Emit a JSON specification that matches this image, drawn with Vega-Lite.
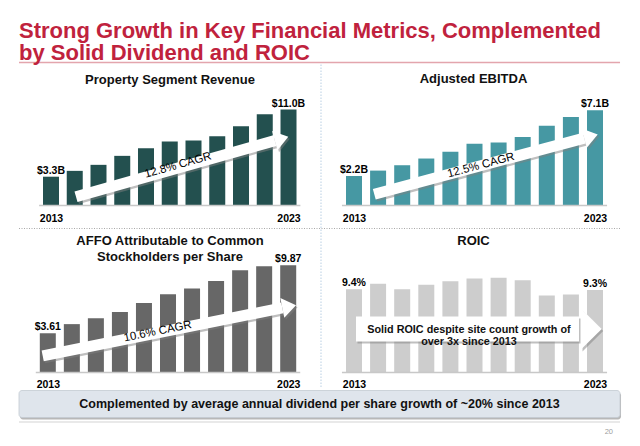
{
  "$schema": "https://vega.github.io/schema/vega-lite/v6.json",
  "padding": {"left": 18, "top": 19.5, "right": 4, "bottom": 2},
  "background": "white",
  "title": {
    "text": ["Strong Growth in Key Financial Metrics, Complemented", "by Solid Dividend and ROIC"],
    "fontSize": 22, "color": "#c0223d", "anchor": "start", "lineHeight": 22.6,
    "baseline": "alphabetic", "offset": -20.5, "frame": "group"
  },
  "concat": [
    {
      "width": 302, "height": 117,
      "title": {"text": "Property Segment Revenue", "offset": -35, "baseline": "alphabetic"},
      "layer": [
        {
          "data": {"values": [
            {"year": 2013, "value": 3.3, "label": "$3.3B"},
            {"year": 2014, "value": 3.97},
            {"year": 2015, "value": 4.66},
            {"year": 2016, "value": 5.69},
            {"year": 2017, "value": 6.57},
            {"year": 2018, "value": 7.33},
            {"year": 2019, "value": 7.45},
            {"year": 2020, "value": 7.94},
            {"year": 2021, "value": 9.09},
            {"year": 2022, "value": 10.46},
            {"year": 2023, "value": 11.0, "label": "$11.0B"}
          ]},
          "layer": [
            {
              "mark": {"type": "bar", "width": 16, "color": "#23504f"},
              "encoding": {
                "x": {"field": "year", "type": "quantitative", "scale": {"domain": [2011.653, 2024.368], "nice": false, "zero": false, "padding": 0},
                      "axis": {"values": [2013, 2023], "format": "d", "title": null, "labelPadding": 7.5}},
                "y": {"field": "value", "type": "quantitative", "scale": {"domain": [0, 13.41], "nice": false, "padding": 0}, "axis": null}
              }
            },
            {
              "transform": [{"filter": "isValid(datum.label)"}],
              "mark": {"type": "text", "fontSize": 10.5, "fontWeight": "bold", "baseline": "alphabetic", "dy": -3, "color": "#000"},
              "encoding": {
                "x": {"field": "year", "type": "quantitative", "axis": {"values": [2013, 2023], "format": "d", "title": null, "labelPadding": 7.5}},
                "y": {"field": "value", "type": "quantitative", "axis": null},
                "text": {"field": "label"}
              }
            }
          ]
        },
        {
          "data": {"values": [{}]},
          "mark": {"type": "rule", "color": "#c8c8c8", "strokeWidth": 1.5},
          "encoding": {"x": {"datum": 2012.5, "type": "quantitative", "axis": {"values": [2013, 2023], "format": "d", "title": null, "labelPadding": 7.5}}, "x2": {"datum": 2023.5}, "y": {"datum": 0, "type": "quantitative", "axis": null}}
        },
        {
          "data": {"values": [{}]},
          "mark": {"type": "rule", "color": "#e3a5ad", "strokeWidth": 1.5},
          "encoding": {"x": {"datum": 2011.653, "type": "quantitative", "axis": {"values": [2013, 2023], "format": "d", "title": null, "labelPadding": 7.5}}, "x2": {"datum": 2036.958}, "y": {"datum": 16.39, "type": "quantitative", "axis": null}}
        },
        {
          "data": {"values": [{}]},
          "mark": {"type": "rule", "color": "#b9cfe3", "strokeWidth": 1, "strokeDash": [1.5, 1.5]},
          "encoding": {"x": {"datum": 2024.368, "type": "quantitative", "axis": {"values": [2013, 2023], "format": "d", "title": null, "labelPadding": 7.5}}, "y": {"datum": 16.16, "type": "quantitative", "axis": null}, "y2": {"datum": -20.97}}
        },
        {
          "data": {"values": [{}]},
          "mark": {"type": "rule", "color": "#a8a8a8", "strokeWidth": 1, "strokeDash": [1, 1.5]},
          "encoding": {"x": {"datum": 2011.653, "type": "quantitative", "axis": {"values": [2013, 2023], "format": "d", "title": null, "labelPadding": 7.5}}, "x2": {"datum": 2036.958}, "y": {"datum": -2.636, "type": "quantitative", "axis": null}}
        },
        {
          "data": {"values": [{}]},
          "mark": {"type": "rule", "color": "#7f7f7f", "strokeWidth": 11, "opacity": 0.5, "xOffset": 1.5, "x2Offset": 1.5, "yOffset": 2, "y2Offset": 2},
          "encoding": {"x": {"datum": 2014.053, "type": "quantitative", "axis": {"values": [2013, 2023], "format": "d", "title": null, "labelPadding": 7.5}}, "y": {"datum": 0.997, "type": "quantitative", "axis": null}, "x2": {"datum": 2022.423}, "y2": {"datum": 7.438}}
        },
        {
          "data": {"values": [{}]},
          "mark": {"type": "point", "shape": "M-1,-1.43L1,0L-1,1.43Z", "size": 196, "angle": 344.2, "filled": true, "fill": "#7f7f7f", "opacity": 0.5, "strokeWidth": 0, "xOffset": 1.5, "yOffset": 2},
          "encoding": {"x": {"datum": 2022.707, "type": "quantitative", "axis": {"values": [2013, 2023], "format": "d", "title": null, "labelPadding": 7.5}}, "y": {"datum": 7.656, "type": "quantitative", "axis": null}}
        },
        {
          "data": {"values": [{}]},
          "mark": {"type": "rule", "color": "#ffffff", "strokeWidth": 11},
          "encoding": {"x": {"datum": 2014.053, "type": "quantitative", "axis": {"values": [2013, 2023], "format": "d", "title": null, "labelPadding": 7.5}}, "y": {"datum": 0.997, "type": "quantitative", "axis": null}, "x2": {"datum": 2022.423}, "y2": {"datum": 7.438}}
        },
        {
          "data": {"values": [{}]},
          "mark": {"type": "point", "shape": "M-1,-1.43L1,0L-1,1.43Z", "size": 196, "angle": 344.2, "filled": true, "fill": "#ffffff", "opacity": 1, "strokeWidth": 0},
          "encoding": {"x": {"datum": 2022.707, "type": "quantitative", "axis": {"values": [2013, 2023], "format": "d", "title": null, "labelPadding": 7.5}}, "y": {"datum": 7.656, "type": "quantitative", "axis": null}}
        },
        {
          "data": {"values": [{"note": "12.8% CAGR"}]},
          "mark": {"type": "text", "angle": 344.2, "fontSize": 11.5, "color": "#000", "baseline": "middle"},
          "encoding": {"x": {"datum": 2018.35, "type": "quantitative", "axis": {"values": [2013, 2023], "format": "d", "title": null, "labelPadding": 7.5}}, "y": {"datum": 4.58, "type": "quantitative", "axis": null}, "text": {"field": "note"}}
        }
      ]
    },
    {
      "width": 299, "height": 117,
      "title": {"text": "Adjusted EBITDA", "offset": -7, "baseline": "alphabetic", "dx": 3},
      "layer": [
        {
          "data": {"values": [
            {"year": 2013, "value": 2.2, "label": "$2.2B"},
            {"year": 2014, "value": 2.6},
            {"year": 2015, "value": 3.0},
            {"year": 2016, "value": 3.5},
            {"year": 2017, "value": 4.0},
            {"year": 2018, "value": 4.6},
            {"year": 2019, "value": 4.7},
            {"year": 2020, "value": 5.1},
            {"year": 2021, "value": 5.95},
            {"year": 2022, "value": 6.6},
            {"year": 2023, "value": 7.1, "label": "$7.1B"}
          ]},
          "layer": [
            {
              "mark": {"type": "bar", "width": 16, "color": "#4698a3"},
              "encoding": {
                "x": {"field": "year", "type": "quantitative", "scale": {"domain": [2011.631, 2024.037], "nice": false, "zero": false, "padding": 0},
                      "axis": {"values": [2013, 2023], "format": "d", "title": null, "labelPadding": 7.5}},
                "y": {"field": "value", "type": "quantitative", "scale": {"domain": [0, 8.717], "nice": false, "padding": 0}, "axis": null}
              }
            },
            {
              "transform": [{"filter": "isValid(datum.label)"}],
              "mark": {"type": "text", "fontSize": 10.5, "fontWeight": "bold", "baseline": "alphabetic", "dy": -3, "color": "#000"},
              "encoding": {
                "x": {"field": "year", "type": "quantitative", "axis": {"values": [2013, 2023], "format": "d", "title": null, "labelPadding": 7.5}},
                "y": {"field": "value", "type": "quantitative", "axis": null},
                "text": {"field": "label"}
              }
            }
          ]
        },
        {
          "data": {"values": [{}]},
          "mark": {"type": "rule", "color": "#c8c8c8", "strokeWidth": 1.5},
          "encoding": {"x": {"datum": 2012.5, "type": "quantitative", "axis": {"values": [2013, 2023], "format": "d", "title": null, "labelPadding": 7.5}}, "x2": {"datum": 2023.5}, "y": {"datum": 0, "type": "quantitative", "axis": null}}
        },
        {
          "data": {"values": [{}]},
          "mark": {"type": "rule", "color": "#7f7f7f", "strokeWidth": 11, "opacity": 0.5, "xOffset": 1.5, "x2Offset": 1.5, "yOffset": 2, "y2Offset": 2},
          "encoding": {"x": {"datum": 2013.842, "type": "quantitative", "axis": {"values": [2013, 2023], "format": "d", "title": null, "labelPadding": 7.5}}, "y": {"datum": 0.842, "type": "quantitative", "axis": null}, "x2": {"datum": 2022.552}, "y2": {"datum": 5.022}}
        },
        {
          "data": {"values": [{}]},
          "mark": {"type": "point", "shape": "M-1,-1.43L1,0L-1,1.43Z", "size": 196, "angle": 345, "filled": true, "fill": "#7f7f7f", "opacity": 0.5, "strokeWidth": 0, "xOffset": 1.5, "yOffset": 2},
          "encoding": {"x": {"datum": 2022.832, "type": "quantitative", "axis": {"values": [2013, 2023], "format": "d", "title": null, "labelPadding": 7.5}}, "y": {"datum": 5.156, "type": "quantitative", "axis": null}}
        },
        {
          "data": {"values": [{}]},
          "mark": {"type": "rule", "color": "#ffffff", "strokeWidth": 11},
          "encoding": {"x": {"datum": 2013.842, "type": "quantitative", "axis": {"values": [2013, 2023], "format": "d", "title": null, "labelPadding": 7.5}}, "y": {"datum": 0.842, "type": "quantitative", "axis": null}, "x2": {"datum": 2022.552}, "y2": {"datum": 5.022}}
        },
        {
          "data": {"values": [{}]},
          "mark": {"type": "point", "shape": "M-1,-1.43L1,0L-1,1.43Z", "size": 196, "angle": 345, "filled": true, "fill": "#ffffff", "opacity": 1, "strokeWidth": 0},
          "encoding": {"x": {"datum": 2022.832, "type": "quantitative", "axis": {"values": [2013, 2023], "format": "d", "title": null, "labelPadding": 7.5}}, "y": {"datum": 5.156, "type": "quantitative", "axis": null}}
        },
        {
          "data": {"values": [{"note": "12.5% CAGR"}]},
          "mark": {"type": "text", "angle": 345, "fontSize": 11.5, "color": "#000", "baseline": "middle"},
          "encoding": {"x": {"datum": 2018.27, "type": "quantitative", "axis": {"values": [2013, 2023], "format": "d", "title": null, "labelPadding": 7.5}}, "y": {"datum": 2.97, "type": "quantitative", "axis": null}, "text": {"field": "note"}}
        }
      ]
    },
    {
      "width": 302, "height": 149,
      "title": {"text": ["AFFO Attributable to Common", "Stockholders per Share"], "offset": -50.65, "baseline": "alphabetic", "lineHeight": 16},
      "layer": [
        {
          "data": {"values": [
            {"year": 2013, "value": 3.61, "label": "$3.61"},
            {"year": 2014, "value": 4.45},
            {"year": 2015, "value": 4.98},
            {"year": 2016, "value": 5.56},
            {"year": 2017, "value": 6.40},
            {"year": 2018, "value": 7.20},
            {"year": 2019, "value": 7.72},
            {"year": 2020, "value": 8.42},
            {"year": 2021, "value": 9.40},
            {"year": 2022, "value": 9.78},
            {"year": 2023, "value": 9.87, "label": "$9.87"}
          ]},
          "layer": [
            {
              "mark": {"type": "bar", "width": 16, "color": "#676767"},
              "encoding": {
                "x": {"field": "year", "type": "quantitative", "scale": {"domain": [2011.802, 2024.364], "nice": false, "zero": false, "padding": 0},
                      "axis": {"values": [2013, 2023], "format": "d", "title": null, "labelPadding": 7}},
                "y": {"field": "value", "type": "quantitative", "scale": {"domain": [0, 13.706], "nice": false, "padding": 0}, "axis": null}
              }
            },
            {
              "transform": [{"filter": "isValid(datum.label)"}],
              "mark": {"type": "text", "fontSize": 10.5, "fontWeight": "bold", "baseline": "alphabetic", "dy": -3, "color": "#000"},
              "encoding": {
                "x": {"field": "year", "type": "quantitative", "axis": {"values": [2013, 2023], "format": "d", "title": null, "labelPadding": 7}},
                "y": {"field": "value", "type": "quantitative", "axis": null},
                "text": {"field": "label"}
              }
            }
          ]
        },
        {
          "data": {"values": [{}]},
          "mark": {"type": "rule", "color": "#c8c8c8", "strokeWidth": 1.5},
          "encoding": {"x": {"datum": 2012.5, "type": "quantitative", "axis": {"values": [2013, 2023], "format": "d", "title": null, "labelPadding": 7}}, "x2": {"datum": 2023.5}, "y": {"datum": 0, "type": "quantitative", "axis": null}}
        },
        {
          "data": {"values": [{}]},
          "mark": {"type": "rule", "color": "#7f7f7f", "strokeWidth": 11, "opacity": 0.5, "xOffset": 1.5, "x2Offset": 1.5, "yOffset": 2, "y2Offset": 2},
          "encoding": {"x": {"datum": 2012.788, "type": "quantitative", "axis": {"values": [2013, 2023], "format": "d", "title": null, "labelPadding": 7}}, "y": {"datum": 1.536, "type": "quantitative", "axis": null}, "x2": {"datum": 2022.755}, "y2": {"datum": 5.943}}
        },
        {
          "data": {"values": [{}]},
          "mark": {"type": "point", "shape": "M-1,-1.43L1,0L-1,1.43Z", "size": 196, "angle": 348.7, "filled": true, "fill": "#7f7f7f", "opacity": 0.5, "strokeWidth": 0, "xOffset": 1.5, "yOffset": 2},
          "encoding": {"x": {"datum": 2023.04, "type": "quantitative", "axis": {"values": [2013, 2023], "format": "d", "title": null, "labelPadding": 7}}, "y": {"datum": 6.067, "type": "quantitative", "axis": null}}
        },
        {
          "data": {"values": [{}]},
          "mark": {"type": "rule", "color": "#ffffff", "strokeWidth": 11},
          "encoding": {"x": {"datum": 2012.788, "type": "quantitative", "axis": {"values": [2013, 2023], "format": "d", "title": null, "labelPadding": 7}}, "y": {"datum": 1.536, "type": "quantitative", "axis": null}, "x2": {"datum": 2022.755}, "y2": {"datum": 5.943}}
        },
        {
          "data": {"values": [{}]},
          "mark": {"type": "point", "shape": "M-1,-1.43L1,0L-1,1.43Z", "size": 196, "angle": 348.7, "filled": true, "fill": "#ffffff", "opacity": 1, "strokeWidth": 0},
          "encoding": {"x": {"datum": 2023.04, "type": "quantitative", "axis": {"values": [2013, 2023], "format": "d", "title": null, "labelPadding": 7}}, "y": {"datum": 6.067, "type": "quantitative", "axis": null}}
        },
        {
          "data": {"values": [{"note": "10.6% CAGR"}]},
          "mark": {"type": "text", "angle": 348.7, "fontSize": 11.5, "color": "#000", "baseline": "middle"},
          "encoding": {"x": {"datum": 2017.57, "type": "quantitative", "axis": {"values": [2013, 2023], "format": "d", "title": null, "labelPadding": 7}}, "y": {"datum": 3.75, "type": "quantitative", "axis": null}, "text": {"field": "note"}}
        },
        {
          "data": {"values": [{}]},
          "mark": {"type": "rect", "color": "#9a9a9a", "opacity": 0.7, "cornerRadius": 3, "xOffset": 1, "x2Offset": 1, "yOffset": 2, "y2Offset": 2},
          "encoding": {"x": {"datum": 2011.802, "type": "quantitative", "axis": {"values": [2013, 2023], "format": "d", "title": null, "labelPadding": 7}}, "x2": {"datum": 2036.802}, "y": {"datum": -1.656, "type": "quantitative", "axis": null}, "y2": {"datum": -4.14}}
        },
        {
          "data": {"values": [{}]},
          "mark": {"type": "rect", "fill": "#dfe5ec", "stroke": "#c3cad2", "strokeWidth": 0.8, "opacity": 1, "cornerRadius": 3},
          "encoding": {"x": {"datum": 2011.802, "type": "quantitative", "axis": {"values": [2013, 2023], "format": "d", "title": null, "labelPadding": 7}}, "x2": {"datum": 2036.802}, "y": {"datum": -1.656, "type": "quantitative", "axis": null}, "y2": {"datum": -4.14}}
        },
        {
          "data": {"values": [{}]},
          "mark": {"type": "rule", "color": "#e2e2e2", "strokeWidth": 1.5},
          "encoding": {"x": {"datum": 2011.802, "type": "quantitative", "axis": {"values": [2013, 2023], "format": "d", "title": null, "labelPadding": 7}}, "x2": {"datum": 2036.802}, "y": {"datum": -4.554, "type": "quantitative", "axis": null}}
        },
        {
          "data": {"values": [{"note": "Complemented by average annual dividend per share growth of ~20% since 2013"}]},
          "mark": {"type": "text", "fontSize": 12.5, "fontWeight": "bold", "color": "#111", "baseline": "middle", "align": "center"},
          "encoding": {"x": {"datum": 2024.302, "type": "quantitative", "axis": {"values": [2013, 2023], "format": "d", "title": null, "labelPadding": 7}}, "y": {"datum": -2.898, "type": "quantitative", "axis": null}, "text": {"field": "note"}}
        },
        {
          "data": {"values": [{"note": "20"}]},
          "mark": {"type": "text", "fontSize": 7.5, "color": "#a0a0a0", "baseline": "middle", "align": "right"},
          "encoding": {"x": {"datum": 2036.51, "type": "quantitative", "axis": {"values": [2013, 2023], "format": "d", "title": null, "labelPadding": 7}}, "y": {"datum": -5.428, "type": "quantitative", "axis": null}, "text": {"field": "note"}}
        }
      ]
    },
    {
      "width": 299, "height": 149,
      "title": {"text": "ROIC", "offset": -34.65, "baseline": "alphabetic", "dx": 3},
      "layer": [
        {
          "data": {"values": [
            {"year": 2013, "value": 9.4, "label": "9.4%"},
            {"year": 2014, "value": 10.0},
            {"year": 2015, "value": 9.4},
            {"year": 2016, "value": 9.9},
            {"year": 2017, "value": 10.3},
            {"year": 2018, "value": 10.6},
            {"year": 2019, "value": 10.7},
            {"year": 2020, "value": 10.4},
            {"year": 2021, "value": 8.7},
            {"year": 2022, "value": 8.8},
            {"year": 2023, "value": 9.3, "label": "9.3%"}
          ]},
          "layer": [
            {
              "mark": {"type": "bar", "width": 16, "color": "#cdcdcd"},
              "encoding": {
                "x": {"field": "year", "type": "quantitative", "scale": {"domain": [2011.631, 2024.037], "nice": false, "zero": false, "padding": 0},
                      "axis": {"values": [2013, 2023], "format": "d", "title": null, "labelPadding": 7}},
                "y": {"field": "value", "type": "quantitative", "scale": {"domain": [0, 16.81], "nice": false, "padding": 0}, "axis": null}
              }
            },
            {
              "transform": [{"filter": "isValid(datum.label)"}],
              "mark": {"type": "text", "fontSize": 10.5, "fontWeight": "bold", "baseline": "alphabetic", "dy": -3, "color": "#000"},
              "encoding": {
                "x": {"field": "year", "type": "quantitative", "axis": {"values": [2013, 2023], "format": "d", "title": null, "labelPadding": 7}},
                "y": {"field": "value", "type": "quantitative", "axis": null},
                "text": {"field": "label"}
              }
            }
          ]
        },
        {
          "data": {"values": [{}]},
          "mark": {"type": "rule", "color": "#c8c8c8", "strokeWidth": 1.5},
          "encoding": {"x": {"datum": 2012.5, "type": "quantitative", "axis": {"values": [2013, 2023], "format": "d", "title": null, "labelPadding": 7}}, "x2": {"datum": 2023.5}, "y": {"datum": 0, "type": "quantitative", "axis": null}}
        },
        {
          "data": {"values": [{}]},
          "mark": {"type": "rule", "color": "#7f7f7f", "strokeWidth": 25, "opacity": 0.5, "xOffset": 1.5, "x2Offset": 1.5, "yOffset": 2, "y2Offset": 2},
          "encoding": {"x": {"datum": 2013.083, "type": "quantitative", "axis": {"values": [2013, 2023], "format": "d", "title": null, "labelPadding": 7}}, "x2": {"datum": 2022.336}, "y": {"datum": 4.908, "type": "quantitative", "axis": null}}
        },
        {
          "data": {"values": [{}]},
          "mark": {"type": "point", "shape": "M-1,-1.98L1,0L-1,1.98Z", "size": 428.5, "angle": 0, "filled": true, "fill": "#7f7f7f", "opacity": 0.5, "strokeWidth": 0, "xOffset": 1.5, "yOffset": 2},
          "encoding": {"x": {"datum": 2022.848, "type": "quantitative", "axis": {"values": [2013, 2023], "format": "d", "title": null, "labelPadding": 7}}, "y": {"datum": 4.908, "type": "quantitative", "axis": null}}
        },
        {
          "data": {"values": [{}]},
          "mark": {"type": "rule", "color": "#ffffff", "strokeWidth": 25},
          "encoding": {"x": {"datum": 2013.083, "type": "quantitative", "axis": {"values": [2013, 2023], "format": "d", "title": null, "labelPadding": 7}}, "x2": {"datum": 2022.336}, "y": {"datum": 4.908, "type": "quantitative", "axis": null}}
        },
        {
          "data": {"values": [{}]},
          "mark": {"type": "point", "shape": "M-1,-1.98L1,0L-1,1.98Z", "size": 428.5, "angle": 0, "filled": true, "fill": "#ffffff", "opacity": 1, "strokeWidth": 0},
          "encoding": {"x": {"datum": 2022.848, "type": "quantitative", "axis": {"values": [2013, 2023], "format": "d", "title": null, "labelPadding": 7}}, "y": {"datum": 4.908, "type": "quantitative", "axis": null}}
        },
        {
          "data": {"values": [{"note": ["Solid ROIC despite site count growth of", "over 3x since 2013"]}]},
          "mark": {"type": "text", "fontSize": 10.8, "fontWeight": "bold", "color": "#111", "baseline": "middle", "lineHeight": 12.5},
          "encoding": {"x": {"datum": 2017.77, "type": "quantitative", "axis": {"values": [2013, 2023], "format": "d", "title": null, "labelPadding": 7}}, "y": {"datum": 4.85, "type": "quantitative", "axis": null}, "text": {"field": "note"}}
        }
      ]
    }
  ],
  "columns": 2,
  "align": "each",
  "bounds": "flush",
  "spacing": {"row": 18, "column": 0},
  "config": {
    "view": {"stroke": null},
    "font": "Liberation Sans",
    "title": {"font": "Liberation Sans", "fontSize": 13, "fontWeight": "bold", "color": "#111", "anchor": "middle"},
    "axis": {"labelFont": "Liberation Sans", "labelFontSize": 10.5, "labelFontWeight": "bold", "labelColor": "#000", "ticks": false, "tickSize": 0, "domain": false, "grid": false}
  }
}
